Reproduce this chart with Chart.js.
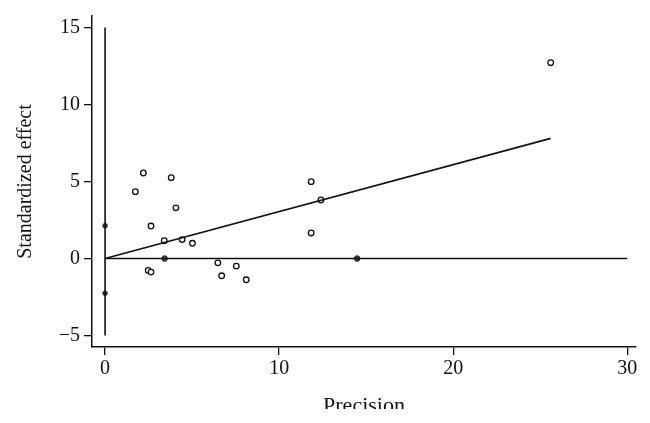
<!DOCTYPE html>
<html>
<head>
<meta charset="utf-8">
<script src="https://cdn.jsdelivr.net/npm/chart.js@4/dist/chart.umd.min.js"></script>
<style>
  html, body { margin: 0; padding: 0; background: #fff; }
  #wrap { width: 650px; height: 423px; }
</style>
</head>
<body>
<div id="wrap"><canvas id="galbraith"></canvas></div>
<script>
// 刻度
const xTicks = [0, 10, 20, 30];
const yTicks = [-5, 0, 5, 10, 15];

// 空心点（研究）
const openX = [2.2, 1.74, 3.8, 4.07, 2.64, 3.4, 4.43, 5.02, 2.48, 2.64, 6.48, 6.7, 7.54, 8.11, 11.84, 11.84, 12.4, 25.6];
const openY = [5.55, 4.34, 5.25, 3.29, 2.11, 1.16, 1.23, 0.99, -0.77, -0.88, -0.28, -1.12, -0.49, -1.38, 4.99, 1.66, 3.8, 12.71];

// 实心点
const filledX = [0, 0, 3.42, 14.48];
const filledY = [2.13, -2.25, 0, 0];

// 参考线
const vlineX = [0, 0];
const vlineY = [-5, 15];
const hlineX = [0, 30];
const hlineY = [0, 0];
const fitX = [0, 25.6];
const fitY = [0, 7.8];

const toPoints = (xs, ys) => xs.map((x, i) => ({ x: x, y: ys[i] }));

const serif = "'Liberation Serif', 'DejaVu Serif', serif";

function lineSet(xs, ys) {
  return {
    type: 'line',
    data: toPoints(xs, ys),
    borderColor: '#111',
    borderWidth: 1.6,
    pointRadius: 0,
    fill: false,
    tension: 0
  };
}

// 底部白边（原图标题被截断）
const cropBottom = {
  id: 'cropBottom',
  afterDraw(chart) {
    const c = chart.ctx;
    c.save();
    c.fillStyle = '#fff';
    c.fillRect(0, 409, chart.width, chart.height - 409);
    c.restore();
  }
};

const ctx = document.getElementById('galbraith').getContext('2d');
new Chart(ctx, {
  type: 'scatter',
  data: {
    datasets: [
      lineSet(vlineX, vlineY),
      lineSet(hlineX, hlineY),
      lineSet(fitX, fitY),
      {
        data: toPoints(openX, openY),
        pointStyle: 'circle',
        pointRadius: 2.8,
        pointBorderWidth: 1.3,
        pointBorderColor: '#111',
        pointBackgroundColor: '#fff'
      },
      {
        data: toPoints(filledX, filledY),
        pointStyle: 'circle',
        pointRadius: [2.3, 2.3, 2.8, 2.8],
        pointBorderWidth: 1,
        pointBorderColor: '#222',
        pointBackgroundColor: '#444'
      }
    ]
  },
  plugins: [cropBottom],
  options: {
    responsive: true,
    maintainAspectRatio: false,
    animation: false,
    layout: { padding: { top: 14, right: 14, left: 0, bottom: 0 } },
    plugins: {
      legend: { display: false },
      tooltip: { enabled: false }
    },
    scales: {
      x: {
        type: 'linear',
        min: -0.75,
        max: 30.5,
        afterBuildTicks: axis => { axis.ticks = xTicks.map(v => ({ value: v })); },
        afterFit: axis => { axis.height = 76; },
        grid: { drawOnChartArea: false, drawTicks: true, tickLength: 8, color: '#111', lineWidth: 1.3 },
        border: { display: true, color: '#111', width: 1.5 },
        ticks: { color: '#111', font: { family: serif, size: 20 }, padding: 2, maxRotation: 0 },
        title: { display: true, text: 'Precision', color: '#111', font: { family: serif, size: 22 }, padding: { top: 4 } }
      },
      y: {
        type: 'linear',
        min: -5.74,
        max: 15.74,
        afterBuildTicks: axis => { axis.ticks = yTicks.map(v => ({ value: v })); },
        afterFit: axis => { axis.width = 92; },
        grid: { drawOnChartArea: false, drawTicks: true, tickLength: 8, color: '#111', lineWidth: 1.3 },
        border: { display: true, color: '#111', width: 1.5 },
        ticks: {
          color: '#111',
          font: { family: serif, size: 20 },
          padding: 4,
          callback: v => String(v).replace('-', '\u2212')
        },
        title: { display: true, text: 'Standardized effect', color: '#111', font: { family: serif, size: 20 }, padding: { top: 14, bottom: 0 } }
      }
    }
  }
});
</script>
</body>
</html>
